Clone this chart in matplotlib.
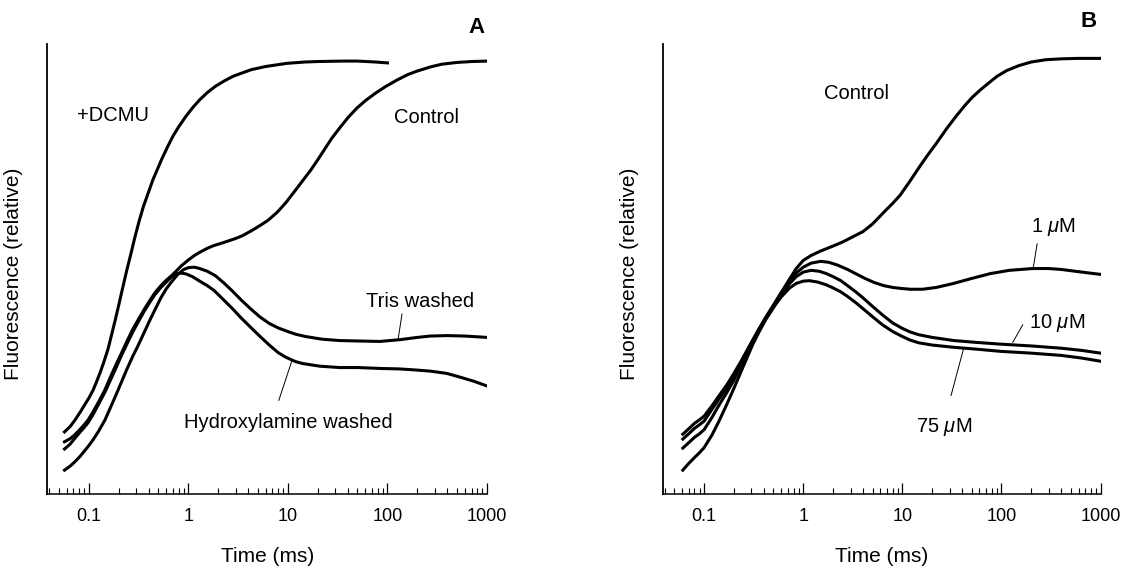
import numpy as np
import matplotlib
matplotlib.use('Agg')
import matplotlib.pyplot as plt
from matplotlib.ticker import LogLocator, NullFormatter, NullLocator

plt.rcParams['font.family'] = ['Liberation Sans', 'DejaVu Sans']
plt.rcParams['mathtext.fontset'] = 'custom'
plt.rcParams['mathtext.rm'] = 'Liberation Sans'
plt.rcParams['mathtext.it'] = 'Liberation Sans:italic'

# ---- panel A data (time in ms, relative fluorescence) ----
t_dcmu = [0.057, 0.065, 0.072, 0.082, 0.092, 0.1, 0.11, 0.12, 0.13, 0.14, 0.156, 0.17,
          0.185, 0.2, 0.22, 0.24, 0.265, 0.29, 0.32, 0.355, 0.4, 0.44, 0.49, 0.54, 0.62,
          0.7, 0.8, 0.95, 1.1, 1.3, 1.55, 1.87, 2.3, 2.8, 3.5, 4.3, 6, 9.75, 15, 20, 35,
          50, 75, 100]
f_dcmu = [13.8, 15.0, 16.3, 18.2, 20.0, 21.3, 23.0, 25.0, 27.0, 29.0, 32.2, 35.5,
          38.8, 42.0, 46.0, 49.6, 53.4, 57.0, 60.6, 64.0, 67.2, 69.8, 72.2, 74.4, 77.2,
          79.5, 81.6, 84.0, 85.8, 87.6, 89.2, 90.6, 91.8, 92.8, 93.6, 94.3, 95.0, 95.7, 96.0, 96.1, 96.2,
          96.2, 96.0, 95.8]

t_ctrl_a = [0.057, 0.065, 0.072, 0.082, 0.09, 0.098, 0.11, 0.125, 0.145, 0.165, 0.19, 0.213,
            0.24, 0.275, 0.313, 0.36, 0.41, 0.461, 0.53, 0.6, 0.676, 0.76, 0.85, 1.0, 1.15,
            1.3, 1.55, 1.8, 2.2, 2.5, 3.0, 3.5, 4.3, 5.2, 6.3, 7.8, 9.5, 12, 14.5, 17, 20,
            24, 27.5, 33, 40, 49, 60, 75, 95, 125, 160, 200, 270, 350, 500, 700, 1000]
f_ctrl_a = [11.6, 12.3, 13.1, 14.4, 15.4, 16.4, 18.2, 20.4, 23.1, 26.0, 29.0, 31.3,
            33.8, 36.5, 38.7, 41.0, 43.0, 44.7, 46.3, 47.5, 48.5, 49.6, 50.7, 52.0, 53.0,
            53.7, 54.6, 55.2, 55.8, 56.2, 56.8, 57.4, 58.5, 59.6, 60.8, 62.6, 64.7, 67.6, 70.0, 72.0, 74.3,
            77.0, 79.0, 81.3, 83.6, 85.7, 87.4, 89.0, 90.5, 92.0, 93.2, 94.0, 94.9, 95.5, 95.9, 96.1, 96.2]

t_tris = [0.057, 0.065, 0.072, 0.082, 0.09, 0.098, 0.11, 0.125, 0.145, 0.165, 0.19, 0.213,
          0.24, 0.275, 0.313, 0.36, 0.41, 0.461, 0.53, 0.6, 0.676, 0.79, 0.9, 1.0, 1.15,
          1.3, 1.55, 1.87, 2.3, 2.8, 3.4, 4.2, 5.2, 6.5, 8, 9.7, 12, 15, 22, 33, 51, 84,
          134, 200, 268, 400, 600, 1000]
f_tris = [5.3, 6.2, 7.1, 8.4, 9.5, 10.5, 12.0, 13.9, 16.4, 19.2, 22.3, 24.9,
          27.6, 30.5, 33.0, 35.9, 38.6, 40.9, 43.6, 45.6, 47.1, 48.9, 49.9, 50.3, 50.4,
          50.1, 49.5, 48.5, 46.8, 45.0, 43.1, 41.2, 39.4, 37.9, 36.9, 36.2, 35.5, 35.0, 34.4, 34.1, 34.0, 33.9,
          34.3, 34.8, 35.1, 35.2, 35.1, 34.8]

t_hydrox = [0.057, 0.065, 0.072, 0.082, 0.09, 0.098, 0.11, 0.125, 0.145, 0.165, 0.19, 0.213,
            0.24, 0.275, 0.313, 0.36, 0.41, 0.461, 0.53, 0.6, 0.676, 0.75, 0.85, 0.95, 1.1,
            1.3, 1.55, 1.82, 2.2, 2.8, 3.4, 4.2, 5.2, 6.5, 8, 9.5, 12, 14, 21, 33, 51, 84,
            130, 182, 270, 394, 550, 750, 1000]
f_hydrox = [10.0, 11.1, 12.3, 13.8, 14.8, 15.8, 17.6, 19.9, 22.6, 25.3, 28.3, 30.8,
            33.2, 35.9, 38.2, 40.6, 42.6, 44.3, 45.9, 47.1, 48.2, 48.9, 49.1, 48.9, 48.3,
            47.3, 46.3, 45.2, 43.4, 41.1, 39.1, 37.1, 35.1, 33.1, 31.4, 30.4, 29.4, 29.0, 28.4, 28.1, 28.1, 27.9,
            27.8, 27.6, 27.3, 26.8, 25.9, 25.0, 24.0]

# ---- panel B data ----
t_ctrl_b = [0.061, 0.07, 0.08, 0.09, 0.1, 0.12, 0.14, 0.17, 0.2, 0.24, 0.28, 0.309, 0.36,
            0.42, 0.515, 0.6, 0.73, 0.85, 1.0, 1.2, 1.5, 2.0, 2.5, 3.0, 4.0, 5.0, 6.5, 8,
            9.5, 12, 15, 18, 22, 28, 35, 43, 51, 62, 75, 90, 113, 150, 200, 280, 400, 600, 1000]
f_ctrl_b = [13.3, 14.5, 15.7, 16.5, 17.3, 19.6, 21.7, 24.3, 26.8, 29.8, 32.5, 34.2, 36.8,
            39.3, 42.4, 44.8, 47.8, 50.1, 51.9, 53.0, 54.0, 55.1, 56.0, 56.9, 58.3, 60.0, 62.6, 64.6,
            66.4, 69.6, 72.8, 75.3, 77.9, 81.2, 84.0, 86.4, 88.2, 89.9, 91.4, 92.8, 94.1, 95.2, 96.0,
            96.5, 96.7, 96.8, 96.8]

t_1um = [0.061, 0.07, 0.08, 0.09, 0.1, 0.12, 0.14, 0.17, 0.2, 0.24, 0.28, 0.309, 0.36,
         0.42, 0.515, 0.6, 0.73, 0.85, 1.0, 1.2, 1.5, 1.8, 2.2, 2.8, 3.5, 4.2, 5.2, 6.5, 8,
         9.5, 12, 16, 22, 33, 50, 78, 120, 205, 300, 400, 600, 1000]
f_1um = [12.2, 13.4, 14.6, 15.4, 16.2, 18.8, 21.0, 23.6, 26.1, 29.4, 32.2, 34.0, 36.7,
         39.2, 42.3, 44.6, 47.4, 49.1, 50.4, 51.3, 51.7, 51.5, 50.9, 49.9, 48.8, 47.9, 47.0, 46.3, 45.9,
         45.7, 45.5, 45.5, 45.9, 46.8, 47.9, 49.0, 49.7, 50.1, 50.1, 49.9, 49.4, 48.8]

t_10um = [0.061, 0.07, 0.08, 0.09, 0.1, 0.12, 0.14, 0.17, 0.2, 0.24, 0.28, 0.309, 0.36,
          0.42, 0.515, 0.6, 0.73, 0.85, 1.0, 1.2, 1.45, 1.7, 2.0, 2.4, 2.8, 3.4, 4.0, 5.0,
          6.3, 8, 10, 12, 14.6, 20, 33, 55, 98, 200, 400, 650, 1000]
f_10um = [10.2, 11.4, 12.6, 13.4, 14.3, 17.0, 19.6, 22.6, 25.3, 29.0, 31.9, 33.8, 36.6,
          39.1, 42.2, 44.4, 46.8, 48.3, 49.3, 49.7, 49.5, 49.0, 48.3, 47.4, 46.3, 44.9, 43.6, 41.7,
          39.8, 38.0, 36.8, 36.0, 35.4, 34.8, 34.1, 33.7, 33.3, 32.9, 32.4, 31.9, 31.3]

t_75um = [0.061, 0.07, 0.08, 0.09, 0.1, 0.12, 0.14, 0.17, 0.2, 0.24, 0.28, 0.309, 0.36,
          0.42, 0.515, 0.6, 0.73, 0.85, 1.0, 1.15, 1.4, 1.7, 2.0, 2.4, 2.8, 3.4, 4.0, 5.0,
          6.3, 8, 10, 12, 14.6, 20, 33, 55, 98, 200, 400, 650, 1000]
f_75um = [5.3, 6.8, 8.1, 9.2, 10.3, 13.1, 16.0, 20.0, 23.5, 27.6, 31.0, 33.2, 36.1,
          38.8, 41.8, 43.8, 45.8, 46.8, 47.3, 47.4, 47.1, 46.5, 45.8, 44.9, 43.9, 42.5, 41.2, 39.4,
          37.6, 36.1, 35.0, 34.2, 33.6, 33.1, 32.6, 32.2, 31.7, 31.3, 30.8, 30.2, 29.5]

tick_vals = [0.1, 1, 10, 100, 1000]
tick_labels = ['0.1', '1', '10', '100', '1000']

fig = plt.figure(figsize=(11.25, 5.69), dpi=100)
ax_a = fig.add_axes([0.0422, 0.1318, 0.3907, 0.7909])
ax_b = fig.add_axes([0.5893, 0.1318, 0.3890, 0.7909])

lw = 2.2
for ax in (ax_a, ax_b):
    ax.set_xscale('log')
    ax.set_xlim(10 ** -1.415, 1000)
    ax.set_ylim(0, 100)
    ax.spines['top'].set_visible(False)
    ax.spines['right'].set_visible(False)
    ax.spines['left'].set_linewidth(1.3)
    ax.spines['bottom'].set_linewidth(1.1)
    ax.yaxis.set_major_locator(NullLocator())
    ax.yaxis.set_minor_locator(NullLocator())
    ax.set_xticks(tick_vals)
    ax.set_xticklabels(tick_labels)
    ax.xaxis.set_minor_locator(LogLocator(base=10, subs=np.arange(2, 10)))
    ax.xaxis.set_minor_formatter(NullFormatter())
    ax.tick_params(axis='x', which='major', direction='in', length=8, width=0.9,
                   pad=10, labelsize=13)
    ax.tick_params(axis='x', which='minor', direction='in', length=4.3, width=0.8)
    ax.set_xlabel('Time (ms)', fontsize=15)
    ax.xaxis.set_label_coords(0.5, -0.118)
    ax.set_ylabel('Fluorescence (relative)', fontsize=15)
    ax.yaxis.set_label_coords(-0.055, 0.49)

# panel A
ax_a.plot(t_dcmu, f_dcmu, color='black', lw=lw)
ax_a.plot(t_ctrl_a, f_ctrl_a, color='black', lw=lw)
ax_a.plot(t_tris, f_tris, color='black', lw=lw)
ax_a.plot(t_hydrox, f_hydrox, color='black', lw=lw)

ax_a.text(0.174, 84.2, '+DCMU', fontsize=14.5, ha='center', va='center')
ax_a.text(244, 83.6, 'Control', fontsize=14.5, ha='center', va='center')
ax_a.text(215, 42.8, 'Tris washed', fontsize=14.5, ha='center', va='center')
ax_a.text(10.2, 15.9, 'Hydroxylamine washed', fontsize=14.5, ha='center', va='center')
ax_a.plot([140, 128], [40.0, 34.4], color='black', lw=0.7)
ax_a.plot([8.1, 11.0], [20.8, 29.7], color='black', lw=0.7)
ax_a.text(0.975, 1.037, 'A', transform=ax_a.transAxes, fontsize=16, fontweight='bold',
          ha='center', va='center')

# panel B
ax_b.plot(t_ctrl_b, f_ctrl_b, color='black', lw=lw)
ax_b.plot(t_1um, f_1um, color='black', lw=lw)
ax_b.plot(t_10um, f_10um, color='black', lw=lw)
ax_b.plot(t_75um, f_75um, color='black', lw=lw)

ax_b.text(3.43, 89.1, 'Control', fontsize=14.5, ha='center', va='center')
ax_b.text(333, 59.3, r'1 $\mu$M', fontsize=14.5, ha='center', va='center')
ax_b.text(362, 38.0, r'10 $\mu$M', fontsize=14.5, ha='center', va='center')
ax_b.text(26.4, 14.8, r'75 $\mu$M', fontsize=14.5, ha='center', va='center')
ax_b.plot([229, 208], [55.6, 49.9], color='black', lw=0.7)
ax_b.plot([164, 130], [37.6, 33.7], color='black', lw=0.7)
ax_b.plot([31, 41.7], [21.9, 32.5], color='black', lw=0.7)
ax_b.text(0.972, 1.049, 'B', transform=ax_b.transAxes, fontsize=16, fontweight='bold',
          ha='center', va='center')

fig.savefig('out.png', dpi=100)
